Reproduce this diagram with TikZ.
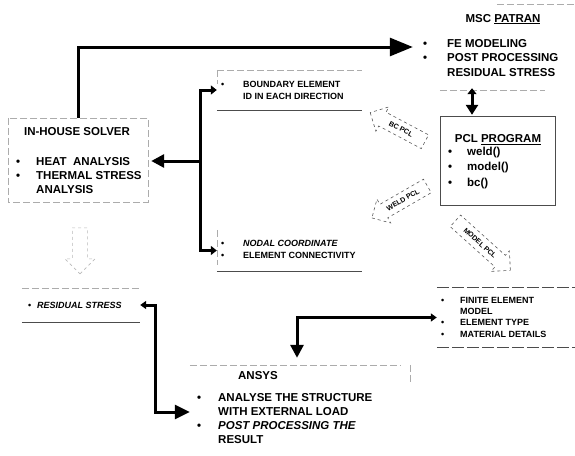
\documentclass[tikz,border=0pt]{standalone}
\usepackage{fontspec}
\setmainfont{Liberation Sans}
\usetikzlibrary{arrows.meta,shapes.arrows}
\begin{document}
\begin{tikzpicture}[x=1pt,y=-1pt,
  frame/.style={draw=none, rectangle, inner sep=0pt},
  edge/.style={draw=gray!65, line width=0.6pt, dash pattern=on 7pt off 3pt},
  solidedge/.style={draw=gray!60!black, line width=0.7pt},
  conn/.style={draw=black, line width=3pt},
  title/.style={font=\bfseries\fontsize{11.5}{14}\selectfont, inner sep=0pt},
  big/.style={font=\bfseries\fontsize{11.5}{14}\selectfont, inner sep=0pt, anchor=base west},
  small/.style={font=\bfseries\fontsize{9}{12}\selectfont, inner sep=0pt, anchor=base west},
  blockarrow/.style={single arrow, draw=gray!70!black, dashed, line width=0.6pt,
    font=\bfseries\fontsize{7}{8}\selectfont, inner xsep=3pt, inner ysep=5pt,
    single arrow head extend=6pt},
]
\useasboundingbox (0,0) rectangle (575,455);

% ---------- box frames ----------
\node[frame, minimum width=162pt, minimum height=86pt] (patran) at (494,47) {};
\node[frame, minimum width=114pt, minimum height=88pt] (pcl) at (498,161) {};
\node[frame, minimum width=140pt, minimum height=84pt] (solver) at (78,160) {};
\node[frame, minimum width=145pt, minimum height=40pt] (bnd) at (289.5,90) {};
\node[frame, minimum width=145pt, minimum height=41pt] (nodal) at (289.5,250.5) {};
\node[frame, minimum width=118pt, minimum height=34pt] (resid) at (81,305) {};
\node[frame, minimum width=220pt, minimum height=94pt] (ansys) at (300,412) {};
\node[frame, minimum width=138pt, minimum height=59pt] (fe) at (506,317.5) {};

% ---------- box edges ----------
\draw[edge] ([xshift=84pt]patran.north west) -- (patran.north east);
\draw[edge] ([xshift=27pt]patran.south west) -- ([xshift=-30pt]patran.south east);
\draw[solidedge] (pcl.north west) rectangle (pcl.south east);
\draw[edge] (solver.north west) rectangle (solver.south east);
\draw[edge] (bnd.north west) -- (bnd.north east);
\draw[edge] (bnd.north west) -- ([yshift=-14pt]bnd.north west);
\draw[solidedge] (bnd.south west) -- (bnd.south east);
\draw[edge] (nodal.north west) -- ([yshift=6pt]nodal.south west);
\draw[solidedge] (nodal.south west) -- (nodal.south east);
\draw[edge] (resid.north west) -- (resid.north east);
\draw[solidedge] (resid.south west) -- (resid.south east);
\draw[edge] (ansys.north west) -- ([xshift=-10pt]ansys.north east);
\draw[edge] (ansys.north east) -- ([yshift=-18pt]ansys.north east);
\draw[solidedge, dash pattern=on 12pt off 3pt] (fe.north west) -- (fe.north east);
\draw[solidedge, dash pattern=on 12pt off 3pt] (fe.south west) -- (fe.south east);

% ---------- texts ----------
\node[title] (pattitle) at (503,19) {MSC \underline{PATRAN}};
\node[big, font=\bfseries\fontsize{11.5}{14.5}\selectfont] (patlist) at (423,47)
  {\begin{tabular}[t]{@{}p{24pt}@{}l@{}}\textbullet & FE MODELING\\ \textbullet & POST PROCESSING\\ & RESIDUAL STRESS\end{tabular}};

\node[title] (pcltitle) at (498,140) {PCL \underline{PROGRAM}};
\node[big, font=\bfseries\fontsize{11.5}{15.5}\selectfont] (pcllist) at (448,155)
  {\begin{tabular}[t]{@{}p{19pt}@{}l@{}}\textbullet & weld()\\ \textbullet & model()\\ \textbullet & bc()\end{tabular}};

\node[title] (soltitle) at (77,132) {IN-HOUSE SOLVER};
\node[big] (sollist) at (16,165.1)
  {\begin{tabular}[t]{@{}p{20pt}@{}l@{}}\textbullet & HEAT\ \ ANALYSIS\\ \textbullet & THERMAL STRESS\\ & ANALYSIS\end{tabular}};

\node[small] (bndlist) at (221,87.2)
  {\begin{tabular}[t]{@{}p{22pt}@{}l@{}}\textbullet & BOUNDARY ELEMENT\\ & ID IN EACH DIRECTION\end{tabular}};

\node[small] (nodlist) at (221,246.5)
  {\begin{tabular}[t]{@{}p{22pt}@{}l@{}}\textbullet & \textit{NODAL COORDINATE}\\ \textbullet & ELEMENT CONNECTIVITY\end{tabular}};

\node[small] (reslist) at (28,308.2)
  {\begin{tabular}[t]{@{}p{9pt}@{}l@{}}\textbullet & \textit{RESIDUAL STRESS}\end{tabular}};

\node[title] (anstitle) at (258,376) {ANSYS};
\node[big] (anslist) at (197,401.1)
  {\begin{tabular}[t]{@{}p{21pt}@{}l@{}}\textbullet & ANALYSE THE STRUCTURE\\ & WITH EXTERNAL LOAD\\ \textbullet & \textit{POST PROCESSING THE}\\ & RESULT\end{tabular}};

\node[small, font=\bfseries\fontsize{9}{11.3}\selectfont] (felist) at (441,303.2)
  {\begin{tabular}[t]{@{}p{19pt}@{}l@{}}\textbullet & FINITE ELEMENT\\ & MODEL\\ \textbullet & ELEMENT TYPE\\ \textbullet & MATERIAL DETAILS\end{tabular}};

% ---------- block arrows ----------
\node[blockarrow, shape border rotate=180, rotate=-28, minimum height=62pt] (bcpcl) at (401,129) {BC PCL};
\node[blockarrow, shape border rotate=180, rotate=30, minimum height=64pt] (weldpcl) at (403,200) {WELD PCL};
\node[blockarrow, rotate=-42, minimum height=74pt] (modelpcl) at (480,243) {MODEL PCL};
\node[single arrow, draw=gray!55, dashed, line width=0.6pt, shape border rotate=270,
      minimum height=46pt, minimum width=30pt, inner sep=7pt, single arrow head extend=7pt] (down) at (80,247) {};

% ---------- connectors ----------
\draw[conn, -{Triangle[length=23pt,width=18pt]}] (solver.north) |- (patran.west);
\coordinate (br) at (200,161);
\draw[conn, -{Triangle[length=13pt,width=13pt]}] (br) -- ([xshift=3pt]solver.east |- br);
\draw[conn, -{Triangle[length=6pt,width=9pt]}] (br) |- (bnd.west);
\draw[conn, -{Triangle[length=6pt,width=9pt]}] (br) |- (nodal.west);
\draw[conn, {Triangle[length=6pt,width=8pt]}-{Triangle[length=15pt,width=14pt]}]
  (resid.east) -- ++(15,0) |- (ansys.west);
\draw[conn, {Triangle[length=6pt,width=8pt]}-{Triangle[length=13pt,width=13pt]}]
  (fe.west) -| ([xshift=-3pt,yshift=7pt]ansys.north);
\draw[conn, {Triangle[length=6pt,width=9pt]}-{Triangle[length=10pt,width=12pt]}]
  ([xshift=-22pt,yshift=2pt]patran.south) -- ([xshift=-26pt,yshift=2pt]pcl.north);
\end{tikzpicture}
\end{document}
